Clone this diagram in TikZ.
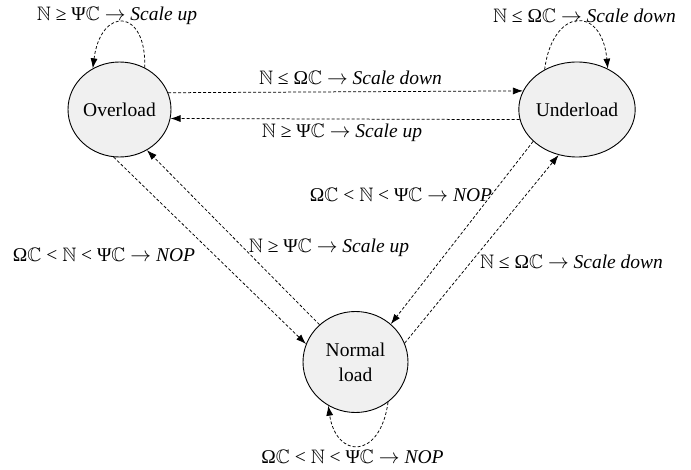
\documentclass[tikz,border=0pt]{standalone}
\usepackage{amssymb}
\usepackage{fontspec}
\setmainfont{Liberation Serif}
\usetikzlibrary{shapes.geometric,arrows.meta}
\newcommand\bN{$\mathbb{N}$}
\newcommand\bC{$\mathbb{C}$}
\newcommand\rar{$\rightarrow$}
\begin{document}
\begin{tikzpicture}[x=1pt,y=-1pt,
  state/.style={ellipse,draw,fill=gray!12,minimum width=103pt,minimum height=95pt,inner sep=0pt,line width=0.9pt,font=\fontsize{19.5}{25}\selectfont,align=center},
  trans/.style={draw,line width=0.75pt,dash pattern=on 3pt off 2pt,-{Latex[length=10pt,width=7pt]}},
  lab/.style={font=\fontsize{19.5}{24}\selectfont,inner sep=0pt}]
\path[use as bounding box] (0,0) rectangle (691,470);
\node[state] (ov) at (119.5,109.5) {Overload};
\node[state] (un) at (577,109.5) {Underload};
\node[state,minimum width=105pt,minimum height=101pt] (nl) at (355.5,362) {Normal\\load};
% self loops
\draw[trans] (ov.59) .. controls +(2,-60) and +(8,-62) .. (ov.123);
\draw[trans] (un.129) .. controls +(8,-62) and +(-6,-64) .. (un.53);
\draw[trans] (nl.-51) .. controls +(-8,58) and +(8,53) .. (nl.-122);
% horizontal
\draw[trans] (ov.19) -- (un.161);
\draw[trans] (un.190) -- (ov.-10);
% diagonals
\draw[trans] (ov.-97) -- (nl.160);
\draw[trans] (nl.134) -- (ov.-56);
\draw[trans] (un.216) -- (nl.47);
\draw[trans] (nl.21) -- (un.248);
% labels
\node[lab] (l1) at (117,16) {\bN{} ≥ Ψ\bC{} \rar{} \textit{Scale up}};
\node[lab] (l2) at (584.5,16) {\bN{} ≤ Ω\bC{} \rar{} \textit{Scale down}};
\node[lab] (l3) at (350.5,78) {\bN{} ≤ Ω\bC{} \rar{} \textit{Scale down}};
\node[lab] (l4) at (342,133) {\bN{} ≥ Ψ\bC{} \rar{} \textit{Scale up}};
\node[lab] (l5) at (104,255) {Ω\bC{} < \bN{} < Ψ\bC{} \rar{} \textit{NOP}};
\node[lab] (l6) at (329,248) {\bN{} ≥ Ψ\bC{} \rar{} \textit{Scale up}};
\node[lab] (l7) at (401,195) {Ω\bC{} < \bN{} < Ψ\bC{} \rar{} \textit{NOP}};
\node[lab] (l8) at (571.5,262) {\bN{} ≤ Ω\bC{} \rar{} \textit{Scale down}};
\node[lab] (l9) at (352.5,457) {Ω\bC{} < \bN{} < Ψ\bC{} \rar{} \textit{NOP}};
\end{tikzpicture}
\end{document}
